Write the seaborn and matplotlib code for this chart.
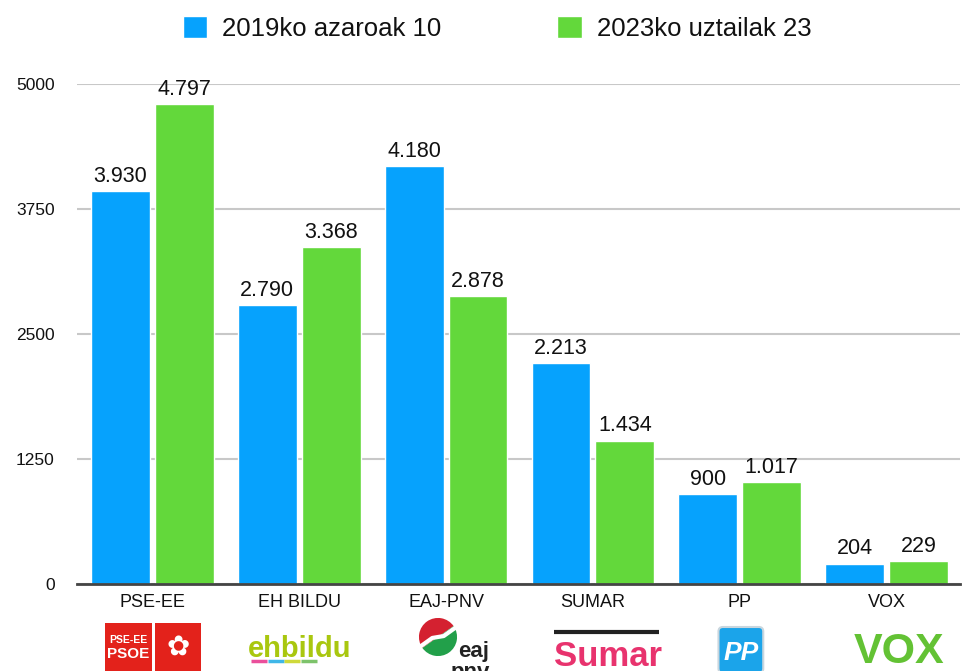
import pandas as pd
import seaborn as sns
import matplotlib.pyplot as plt
from matplotlib.patches import Rectangle, FancyBboxPatch, Wedge

parties = ["PSE-EE", "EH BILDU", "EAJ-PNV", "SUMAR", "PP", "VOX"]
votes_2019 = [3930, 2790, 4180, 2213, 900, 204]
votes_2023 = [4797, 3368, 2878, 1434, 1017, 229]
series = ["2019ko azaroak 10", "2023ko uztailak 23"]
y_ticks = [0, 1250, 2500, 3750, 5000]

colors = ["#06a2fd", "#63d83b"]

df = pd.DataFrame({
    "party": parties * 2,
    "votes": votes_2019 + votes_2023,
    "election": [series[0]] * len(parties) + [series[1]] * len(parties),
})


def fmt(v):
    return f"{v:,}".replace(",", ".")


sns.set_style("white")
plt.rcParams["font.family"] = ["Liberation Sans", "DejaVu Sans"]

fig = plt.figure(figsize=(9.73, 6.71), dpi=100)
ax = fig.add_axes([77 / 973, 87 / 671, 883 / 973, 500 / 671])

sns.barplot(data=df, x="party", y="votes", hue="election", palette=colors,
            width=0.87, gap=0.08, saturation=1, ax=ax, legend=False)

for cont, vals in zip(ax.containers, [votes_2019, votes_2023]):
    ax.bar_label(cont, labels=[fmt(v) for v in vals], padding=3,
                 fontsize=15.5, color="#111111", clip_on=False)

ax.set_ylim(0, 5000)
ax.set_xlim(-0.514, 5.5)
ax.set_yticks(y_ticks)
ax.set_yticklabels([str(t) for t in y_ticks], fontsize=12.5, color="#111111")
ax.grid(axis="y", color="#c8c8c8", linewidth=1.5)
ax.set_axisbelow(True)
for s in ["top", "right", "left"]:
    ax.spines[s].set_visible(False)
ax.spines["bottom"].set_color("#444444")
ax.spines["bottom"].set_linewidth(2)
ax.tick_params(axis="both", length=0)
ax.tick_params(axis="x", labelsize=13, pad=7, labelcolor="#111111")
ax.tick_params(axis="y", pad=16)
ax.set_xlabel("")
ax.set_ylabel("")

# party logos, drawn roughly below each category
tr = ax.get_xaxis_transform()
red = "#e3221b"
ax.add_patch(Rectangle((-0.324, -0.078), 0.321, -0.11, transform=tr,
                       fc=red, ec="none", clip_on=False))
ax.add_patch(Rectangle((0.017, -0.078), 0.313, -0.11, transform=tr,
                       fc=red, ec="none", clip_on=False))
ax.text(-0.163, -0.112, "PSE-EE", transform=tr, ha="center", va="center",
        fontsize=7.5, fontweight="bold", color="white", clip_on=False)
ax.text(-0.163, -0.139, "PSOE", transform=tr, ha="center", va="center",
        fontsize=11, fontweight="bold", color="white", clip_on=False)
ax.text(0.173, -0.125, "✿", transform=tr, ha="center", va="center",
        fontsize=20, color="white", family="DejaVu Sans", clip_on=False)

ax.text(1.0, -0.146, "ehbildu", transform=tr, ha="center", va="baseline",
        fontsize=21, fontweight="bold", color="#a9c70f", clip_on=False)
stripe = ["#ea4f9b", "#3fb7e8", "#cfd93a", "#7dc36b"]
for k, c in enumerate(stripe):
    x0 = 0.673 + k * 0.113
    ax.plot([x0, x0 + 0.108], [-0.154, -0.154], transform=tr, color=c,
            lw=2.5, solid_capstyle="butt", clip_on=False)

logo_ax = fig.add_axes([418 / 973, 14 / 671, 40 / 973, 40 / 671])
logo_ax.set_aspect("equal")
logo_ax.add_patch(Wedge((0, 0), 1, 35, 215, fc="#d42130", ec="none"))
logo_ax.add_patch(Wedge((0, 0), 1, 215, 395, fc="#22a04a", ec="none"))
logo_ax.plot([-1, -0.3, 0.3, 1], [-0.55, -0.05, 0.05, 0.55], color="white", lw=3)
logo_ax.set_xlim(-1.05, 1.05)
logo_ax.set_ylim(-1.05, 1.05)
logo_ax.axis("off")
ax.text(2.08, -0.146, "eaj", transform=tr, ha="left", va="baseline",
        fontsize=16, fontweight="bold", color="#222222", clip_on=False)
ax.text(2.03, -0.188, "pnv", transform=tr, ha="left", va="baseline",
        fontsize=16, fontweight="bold", color="#222222", clip_on=False)

ax.plot([2.734, 3.45], [-0.096, -0.096], transform=tr, color="#222222",
        lw=3, solid_capstyle="butt", clip_on=False)
ax.text(3.1, -0.164, "Sumar", transform=tr, ha="center", va="baseline",
        fontsize=25, fontweight="bold", color="#e8336e", clip_on=False)

ax.add_patch(FancyBboxPatch((3.855, -0.178), 0.305, 0.092, transform=tr,
                            boxstyle="round,pad=0.0,rounding_size=0.03",
                            fc="#1ba4ea", ec="#c9d6de", lw=1.5,
                            mutation_aspect=0.3, clip_on=False))
ax.text(4.008, -0.137, "PP", transform=tr, ha="center", va="center",
        fontsize=19, fontweight="bold", style="italic", color="white", clip_on=False)

ax.text(5.085, -0.158, "VOX", transform=tr, ha="center", va="baseline",
        fontsize=31, fontweight="bold", color="#63c234", clip_on=False)

handles = [plt.Rectangle((0, 0), 1, 1, fc=c) for c in colors]
fig.legend(handles, series, loc="center", bbox_to_anchor=(0.511, 0.9575),
           ncol=2, frameon=False, fontsize=18.5, handlelength=0.95,
           handleheight=0.95, columnspacing=4.5, handletextpad=0.6,
           labelcolor="#111111")

fig.savefig("out.png", dpi=100)
